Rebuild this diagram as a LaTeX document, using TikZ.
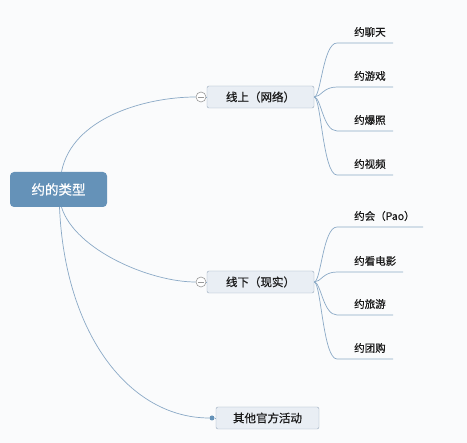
\documentclass[tikz,border=0pt]{standalone}
\usepackage{fontspec}
\setmainfont[FakeBold=0.6]{Noto Sans CJK SC}
\definecolor{bgc}{HTML}{FAFBFC}
\definecolor{rootc}{HTML}{6592B8}
\definecolor{linec}{HTML}{8AA9C6}
\definecolor{subf}{HTML}{E9EEF4}
\definecolor{subb}{HTML}{98AABD}
\definecolor{txt}{HTML}{1A1A1A}
\begin{document}
\begin{tikzpicture}[x=1pt,y=-1pt,
  conn/.style={draw=linec, line width=0.7pt},
  rootbox/.style={fill=rootc, rounded corners=4pt, minimum width=97pt, minimum height=35pt, inner sep=0pt, text=white, font=\fontsize{13.5}{14}\selectfont},
  subbox/.style={draw=subb, fill=subf, rounded corners=2pt, minimum width=107pt, minimum height=22pt, inner sep=0pt, text=txt, font=\fontsize{11.5}{12}\selectfont},
  leaf/.style={anchor=west, inner sep=0pt, text=txt, font=\fontsize{10.5}{11}\selectfont},
  toggle/.style={circle, draw=gray!80, fill=white, minimum size=10pt, inner sep=0pt, line width=0.6pt},
  knob/.style={circle, fill=rootc, minimum size=5pt, inner sep=0pt}
]
\fill[bgc] (0,0) rectangle (467,443);
\useasboundingbox (0,0) rectangle (467,443);

\node[rootbox] (root) at (58.5,189.5) {约的类型};
\node[subbox] (up) at (260.5,97) {线上（网络）};
\node[subbox] (down) at (260.5,282) {线下（现实）};
\node[subbox, minimum width=103pt] (other) at (267.5,418) {其他官方活动};

\node[toggle] (cu) at (201,97) {};
\node[toggle] (cd) at (201,282) {};
\draw[gray!80, line width=0.6pt] ([xshift=2.5pt]cu.west) -- ([xshift=-2.5pt]cu.east);
\draw[gray!80, line width=0.6pt] ([xshift=2.5pt]cd.west) -- ([xshift=-2.5pt]cd.east);
\node[knob] (dot) at (212,418) {};

\draw[conn] ([xshift=3pt]root.north) .. controls (72,118) and (145,97) .. (cu.west);
\draw[conn] ([xshift=3pt]root.south) .. controls (75,250) and (150,282) .. (cd.west);
\draw[conn] ([xshift=1pt]root.south) .. controls (65,335) and (130,418) .. (dot.west);
\draw[conn] (cu.east) -- (up.west);
\draw[conn] (cd.east) -- (down.west);
\draw[conn] (dot.east) -- (other.west);

% upper leaves
\coordinate (a1) at (337,43);  \coordinate (a1e) at (393,43);
\coordinate (a2) at (337,87);  \coordinate (a2e) at (393,87);
\coordinate (a3) at (337,131); \coordinate (a3e) at (393,131);
\coordinate (a4) at (337,175); \coordinate (a4e) at (393,175);
\foreach \c in {a1,a2,a3,a4}{
  \draw[conn] (up.east) .. controls (321,97) and (323,97|-\c) .. (\c) -- (\c e);
}
\node[leaf] (l1) at (354,32) {约聊天};
\node[leaf] (l2) at (354,76) {约游戏};
\node[leaf] (l3) at (354,120) {约爆照};
\node[leaf] (l4) at (354,164) {约视频};

% lower leaves
\coordinate (b1) at (337,227); \coordinate (b1e) at (423,227);
\coordinate (b2) at (337,272); \coordinate (b2e) at (403,272);
\coordinate (b3) at (337,315); \coordinate (b3e) at (393,315);
\coordinate (b4) at (337,359); \coordinate (b4e) at (393,359);
\foreach \c in {b1,b2,b3,b4}{
  \draw[conn] (down.east) .. controls (321,282) and (323,282|-\c) .. (\c) -- (\c e);
}
\node[leaf] (m1) at (354,216) {约会（Pao）};
\node[leaf] (m2) at (354,261) {约看电影};
\node[leaf] (m3) at (354,304) {约旅游};
\node[leaf] (m4) at (354,348) {约团购};
\end{tikzpicture}
\end{document}
